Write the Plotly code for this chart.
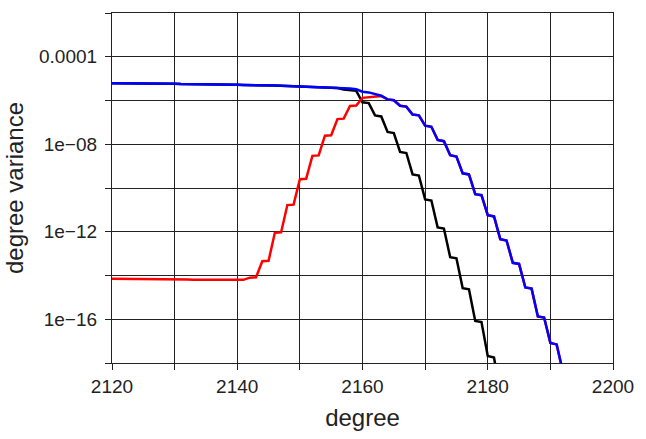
import plotly.graph_objects as go

degrees = list(range(2120, 2194))

blue_log10 = [
    -5.21, -5.21, -5.21, -5.22, -5.22, -5.22, -5.23, -5.22, -5.23, -5.24,
    -5.24, -5.25, -5.25, -5.26, -5.26, -5.26, -5.27, -5.27, -5.27, -5.28,
    -5.28, -5.29, -5.29, -5.30, -5.31, -5.31, -5.32, -5.33, -5.34, -5.35,
    -5.37, -5.38, -5.39, -5.40, -5.41, -5.42, -5.43, -5.44, -5.45, -5.49,
    -5.60, -5.63, -5.72, -5.78, -5.95, -5.99, -6.24, -6.28, -6.64, -6.68,
    -7.15, -7.20, -7.80, -7.86, -8.50, -8.56, -9.33, -9.38, -10.28, -10.33,
    -11.24, -11.30, -12.34, -12.40, -13.42, -13.47, -14.55, -14.60, -15.87, -15.92,
    -17.08, -17.15, -18.40, -18.46,
]

black_log10 = [
    -5.21, -5.21, -5.21, -5.22, -5.22, -5.22, -5.23, -5.22, -5.23, -5.24,
    -5.24, -5.25, -5.25, -5.26, -5.26, -5.26, -5.27, -5.27, -5.27, -5.28,
    -5.28, -5.29, -5.29, -5.30, -5.31, -5.31, -5.32, -5.33, -5.34, -5.35,
    -5.37, -5.38, -5.39, -5.40, -5.41, -5.42, -5.43, -5.50, -5.53, -5.56,
    -6.08, -6.12, -6.68, -6.73, -7.44, -7.49, -8.35, -8.40, -9.38, -9.43,
    -10.52, -10.57, -11.80, -11.85, -13.16, -13.21, -14.58, -14.63, -16.08, -16.13,
    -17.68, -17.75, -19.40,
]

red_log10 = [
    -14.15, -14.15, -14.16, -14.16, -14.16, -14.17, -14.17, -14.17, -14.17, -14.18,
    -14.18, -14.18, -14.18, -14.19, -14.19, -14.19, -14.19, -14.20, -14.20, -14.20,
    -14.20, -14.20, -14.10, -14.08, -13.35, -13.33, -12.05, -12.03, -10.78, -10.76,
    -9.60, -9.58, -8.53, -8.51, -7.61, -7.59, -6.85, -6.83, -6.25, -6.23,
    -5.88, -5.86, -5.82, -5.80, -5.95, -5.99, -6.24, -6.28, -6.64, -6.68,
    -7.15, -7.20, -7.80, -7.86, -8.50, -8.56, -9.33, -9.38, -10.28, -10.33,
    -11.24, -11.30, -12.34, -12.40, -13.42, -13.47, -14.55, -14.60, -15.87, -15.92,
    -17.08, -17.15, -18.40, -18.46,
]

x_tickvals = [2120, 2130, 2140, 2150, 2160, 2170, 2180, 2190, 2200]
x_ticktext = ["2120", "", "2140", "", "2160", "", "2180", "", "2200"]
y_tickvals = [1e-2, 1e-4, 1e-6, 1e-8, 1e-10, 1e-12, 1e-14, 1e-16, 1e-18]
y_ticktext = ["", "0.0001", "", "1e\u221208", "", "1e\u221212", "", "1e\u221216", ""]

FONT = "Liberation Sans, Arial, Helvetica, sans-serif"

fig = go.Figure()
for name, vals, col in [("black", black_log10, "black"),
                        ("red", red_log10, "#ff0000"),
                        ("blue", blue_log10, "#0000ff")]:
    fig.add_trace(go.Scatter(
        x=degrees[:len(vals)], y=[10 ** v for v in vals], mode="lines",
        line=dict(color=col, width=2.5), name=name, showlegend=False,
    ))

fig.update_layout(
    width=646, height=439,
    margin=dict(l=112, r=24, t=13, b=62),
    paper_bgcolor="white", plot_bgcolor="white",
    font=dict(family=FONT, color="#222", size=19),
    xaxis=dict(
        range=[2120, 2200], tickvals=x_tickvals, ticktext=x_ticktext,
        showgrid=True, gridcolor="#222", gridwidth=1,
        showline=True, linecolor="#222", linewidth=1.2, mirror=True,
        ticks="outside", ticklen=6, tickcolor="#222", tickwidth=1,
        zeroline=False,
        title=dict(text="degree", font=dict(size=24, family=FONT), standoff=13),
    ),
    yaxis=dict(
        type="log", range=[-18, -2], tickvals=y_tickvals, ticktext=y_ticktext,
        showgrid=True, gridcolor="#222", gridwidth=1,
        showline=True, linecolor="#222", linewidth=1.2, mirror=True,
        ticks="outside", ticklen=6, tickcolor="#222", tickwidth=1,
        zeroline=False, ticklabelstandoff=4,
        title=dict(text="degree variance", font=dict(size=24, family=FONT), standoff=8),
    ),
)

fig.write_html("out.html")
